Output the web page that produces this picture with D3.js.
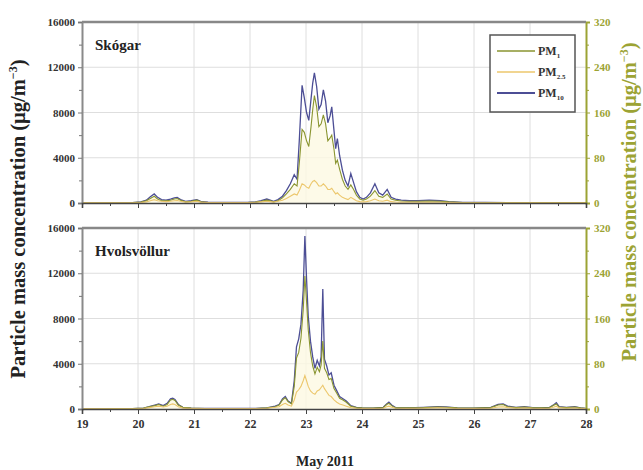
<!DOCTYPE html>
<html><head><meta charset="utf-8">
<script src="https://cdn.jsdelivr.net/npm/d3@7"></script>
<style>body{margin:0;background:#fff}svg{display:block}</style>
</head><body>
<script>
const xTickLabels = ["19","20","21","22","23","24","25","26","27","28"];
const leftTicks = [0,4000,8000,12000,16000];
const rightTicks = [0,80,160,240,320];
const seriesNames = ["PM1","PM2.5","PM10"];

const skT = [19.0,19.3,19.6,19.9,20.05,20.15,20.22,20.29,20.35,20.42,
 20.5,20.58,20.65,20.70,20.76,20.85,20.95,21.05,21.12,21.25,
 21.45,21.7,21.95,22.1,22.2,22.3,22.36,22.42,22.5,22.58,
 22.65,22.72,22.79,22.84,22.88,22.93,22.97,23.01,23.05,23.09,
 23.12,23.15,23.19,23.23,23.27,23.31,23.35,23.39,23.43,23.46,
 23.50,23.53,23.56,23.60,23.65,23.70,23.75,23.80,23.85,23.90,
 23.96,24.02,24.08,24.15,24.23,24.30,24.37,24.45,24.52,24.60,
 24.70,24.85,25.0,25.2,25.4,25.55,25.8,26.2,26.6,27.0,
 27.4,27.8,28.0];
const skPM10 = [30,30,30,40,100,250,550,800,500,300,
 250,350,450,500,300,150,200,300,150,80,
 60,50,60,100,200,350,250,150,300,600,
 1100,1700,2500,2100,5500,10400,9300,8000,7300,9200,
 10600,11500,10300,8300,8700,10000,9000,7100,7700,8500,
 6400,4800,5700,4200,2900,2000,1500,2600,1800,1000,
 500,350,500,900,1700,900,700,1200,500,350,
 250,200,200,250,200,120,60,50,40,40,
 40,40,40];
const skPM25 = [20,20,20,25,50,100,200,300,200,150,
 120,150,200,220,150,80,100,150,80,50,
 40,30,40,60,100,150,120,80,150,250,
 400,600,800,700,1100,1700,1600,1400,1300,1700,
 1900,2000,1800,1500,1500,1700,1500,1200,1200,1300,
 1000,800,900,700,500,400,300,500,350,200,
 120,100,120,200,350,200,150,250,120,90,
 70,60,60,70,60,40,25,20,20,20,
 20,20,20];
const skPM1 = [0.5,0.5,0.5,0.6,1.5,4,8,12,7,4,
 4,5,7,8,5,2,3,5,2,1,
 1,1,1,1.5,3,5,4,2,4,9,
 16,24,34,30,70,130,125,110,100,135,
 165,190,170,135,140,156,140,110,115,120,
 95,70,76,60,42,30,24,32,24,14,
 7,5,7,12,22,12,10,16,7,5,
 3.5,3,3,3.5,3,2,1,1,1,1,
 1,1,1];

const hvT = [19.0,19.3,19.6,19.9,20.1,20.2,20.3,20.37,20.45,20.52,
 20.58,20.62,20.66,20.72,20.8,20.95,21.2,21.5,21.8,22.1,
 22.3,22.45,22.52,22.58,22.63,22.68,22.74,22.79,22.83,22.87,
 22.91,22.95,22.98,23.01,23.04,23.08,23.12,23.16,23.20,23.24,
 23.27,23.30,23.33,23.37,23.41,23.45,23.50,23.55,23.60,23.66,
 23.72,23.80,23.90,24.0,24.2,24.38,24.44,24.48,24.53,24.6,
 24.8,25.1,25.35,25.5,25.7,26.0,26.3,26.43,26.52,26.6,
 26.75,26.9,27.05,27.2,27.35,27.43,27.47,27.52,27.65,27.8,
 27.9,28.0];
const hvPM10 = [30,30,40,40,80,200,350,450,300,500,
 900,950,850,400,150,80,60,50,50,60,
 100,250,400,900,1100,700,500,2500,5500,6200,
 7500,10500,15300,11500,8200,6000,4600,3600,4300,3800,
 4600,10600,4400,3800,3000,3200,2100,1600,1100,900,
 700,300,150,100,80,150,450,600,350,120,
 100,150,200,180,100,80,150,400,450,250,
 150,200,120,100,150,400,550,200,150,200,
 100,60];
const hvPM25 = [20,20,25,25,50,120,200,250,180,250,
 400,450,400,200,80,50,40,30,30,40,
 60,150,200,400,500,350,250,800,1500,1700,
 2000,2500,2950,2500,2000,1600,1400,1300,1600,1700,
 1900,2100,1800,1500,1200,1100,800,600,450,350,
 250,120,70,50,40,70,200,250,150,60,
 50,70,100,90,50,40,70,180,200,120,
 70,90,60,50,70,180,250,100,70,90,
 50,30];
const hvPM1 = [0.5,0.5,0.7,0.7,1.5,4,6,8,5,8,
 16,17,15,7,3,1.5,1,1,1,1,
 2,4,7,16,20,13,9,40,90,100,
 125,175,235,190,140,100,76,62,74,66,
 78,120,72,64,52,54,36,28,19,16,
 12,5,2.5,2,1.5,2.5,8,10,6,2,
 2,2.5,3.5,3,2,1.5,2.5,7,8,4,
 2.5,3.5,2,2,2.5,7,9,3.5,2.5,3.5,
 2,1];

const W = 643, H = 470;
const FONT = "'Liberation Serif','Times New Roman',serif";
const C_PM1 = "#8a9530", C_PM25 = "#ecc76c", C_PM10 = "#4c4e95";
const C_RIGHT = "#9ca334";

const svg = d3.select("body").append("svg").attr("width", W).attr("height", H)
  .style("font-family", FONT).style("font-weight", "bold");

const x = d3.scaleLinear().domain([19, 28]).range([82, 586]);

const panels = [
  {name: "Skógar", top: 22, bottom: 203, t: skT, pm10: skPM10, pm25: skPM25, pm1: skPM1, labels: false, legend: true},
  {name: "Hvolsvöllur", top: 228, bottom: 409, t: hvT, pm10: hvPM10, pm25: hvPM25, pm1: hvPM1, labels: true, legend: false}
];

panels.forEach(p => {
  const yL = d3.scaleLinear().domain([0, 16000]).range([p.bottom, p.top]);
  const yR = d3.scaleLinear().domain([0, 320]).range([p.bottom, p.top]);
  const g = svg.append("g");

  // grid
  g.append("g").selectAll("line").data(d3.range(20, 28)).join("line")
    .attr("x1", d => x(d)).attr("x2", d => x(d)).attr("y1", p.top).attr("y2", p.bottom)
    .attr("stroke", "#dedede").attr("stroke-width", 1);
  g.append("g").selectAll("line").data([4000, 8000, 12000]).join("line")
    .attr("x1", x(19)).attr("x2", x(28)).attr("y1", d => yL(d)).attr("y2", d => yL(d))
    .attr("stroke", "#dedede").attr("stroke-width", 1);

  // data
  const idx = d3.range(p.t.length);
  const lineL = arr => d3.line().x(i => x(p.t[i])).y(i => yL(arr[i]))(idx);
  const lineR = arr => d3.line().x(i => x(p.t[i])).y(i => yR(arr[i]))(idx);
  const area = d3.area().x(i => x(p.t[i])).y0(p.bottom).y1(i => yR(p.pm1[i]));
  g.append("path").attr("d", area(idx)).attr("fill", "#fdf9e2").attr("opacity", 0.8);
  g.append("path").attr("d", lineL(p.pm10)).attr("fill", "none").attr("stroke", C_PM10).attr("stroke-width", 1.3);
  g.append("path").attr("d", lineR(p.pm1)).attr("fill", "none").attr("stroke", C_PM1).attr("stroke-width", 1.1);
  g.append("path").attr("d", lineL(p.pm25)).attr("fill", "none").attr("stroke", C_PM25).attr("stroke-width", 1.1);

  // left axis
  const axL = d3.axisLeft(yL).tickValues(leftTicks).tickSize(4).tickPadding(3).tickFormat(d3.format("d"));
  const gl = g.append("g").attr("transform", `translate(${x(19)},0)`).call(axL);
  gl.select(".domain").attr("stroke", "#8a8a8a").attr("stroke-width", 2);
  gl.selectAll(".tick line").attr("stroke", "#777");
  gl.selectAll("text").attr("font-family", FONT).attr("font-weight", "bold").attr("font-size", 11).attr("fill", "#333");
  const minorL = d3.axisLeft(yL).tickValues([2000, 6000, 10000, 14000]).tickSize(3).tickFormat("");
  const gml = g.append("g").attr("transform", `translate(${x(19)},0)`).call(minorL);
  gml.select(".domain").remove();
  gml.selectAll(".tick line").attr("stroke", "#777");

  // right axis
  const axR = d3.axisRight(yR).tickValues(rightTicks).tickSize(4).tickPadding(4).tickFormat(d3.format("d"));
  const gr = g.append("g").attr("transform", `translate(${x(28)},0)`).call(axR);
  gr.select(".domain").attr("stroke", C_RIGHT).attr("stroke-width", 2);
  gr.selectAll(".tick line").attr("stroke", C_RIGHT);
  gr.selectAll("text").attr("font-family", FONT).attr("font-weight", "bold").attr("font-size", 11).attr("fill", C_RIGHT);
  const minorR = d3.axisRight(yR).tickValues([40, 120, 200, 280]).tickSize(3).tickFormat("");
  const gmr = g.append("g").attr("transform", `translate(${x(28)},0)`).call(minorR);
  gmr.select(".domain").remove();
  gmr.selectAll(".tick line").attr("stroke", C_RIGHT);

  // bottom axis
  const axB = d3.axisBottom(x).tickValues(d3.range(19, 29)).tickSize(5).tickPadding(5)
    .tickFormat((d, i) => p.labels ? xTickLabels[i] : "");
  const gb = g.append("g").attr("transform", `translate(0,${p.bottom})`).call(axB);
  gb.select(".domain").attr("stroke", "#444").attr("stroke-width", 1.6);
  gb.selectAll(".tick line").attr("stroke", "#444");
  gb.selectAll("text").attr("font-family", FONT).attr("font-weight", "bold").attr("font-size", 12).attr("fill", "#333");
  const minorB = d3.axisBottom(x).tickValues(d3.range(19.5, 28, 1)).tickSize(3).tickFormat("");
  const gmb = g.append("g").attr("transform", `translate(0,${p.bottom})`).call(minorB);
  gmb.select(".domain").remove();
  gmb.selectAll(".tick line").attr("stroke", "#444");

  // top border
  g.append("line").attr("x1", x(19)).attr("x2", x(28)).attr("y1", p.top).attr("y2", p.top)
    .attr("stroke", "#888").attr("stroke-width", 2.5);

  // panel label
  g.append("text").attr("x", x(19) + 13).attr("y", p.top + 28).attr("font-size", 15)
    .attr("fill", "#222").text(p.name);

  if (p.legend) {
    const lg = g.append("g").attr("transform", "translate(490,35)");
    lg.append("rect").attr("width", 85).attr("height", 77).attr("fill", "#fff")
      .attr("stroke", "#555").attr("stroke-width", 1.5);
    const cols = [C_PM1, C_PM25, C_PM10];
    const subs = ["1", "2.5", "10"];
    seriesNames.forEach((n, i) => {
      const yy = 16 + i * 21;
      lg.append("line").attr("x1", 7).attr("x2", 45).attr("y1", yy).attr("y2", yy)
        .attr("stroke", cols[i]).attr("stroke-width", i === 2 ? 2 : 1.5);
      const tx = lg.append("text").attr("x", 48).attr("y", yy + 4).attr("font-size", 12).attr("fill", "#333");
      tx.append("tspan").text("PM");
      tx.append("tspan").attr("font-size", 7).attr("dy", 3).text(subs[i]);
    });
  }
});

// axis titles
const lt = svg.append("text").attr("transform", "translate(25,219) rotate(-90)")
  .attr("text-anchor", "middle").attr("font-size", 20.5).attr("fill", "#222");
lt.append("tspan").text("Particle mass concentration (µg/m");
lt.append("tspan").attr("font-size", 12).attr("dy", -8).text("−3");
lt.append("tspan").attr("dy", 8).text(")");

const rt = svg.append("text").attr("transform", "translate(636,202) rotate(-90)")
  .attr("text-anchor", "middle").attr("font-size", 20.5).attr("fill", C_RIGHT);
rt.append("tspan").text("Particle mass concentration (µg/m");
rt.append("tspan").attr("font-size", 12).attr("dy", -8).text("−3");
rt.append("tspan").attr("dy", 8).text(")");

svg.append("text").attr("x", 325).attr("y", 466).attr("text-anchor", "middle")
  .attr("font-size", 14).attr("fill", "#222").text("May 2011");
</script>
</body></html>
